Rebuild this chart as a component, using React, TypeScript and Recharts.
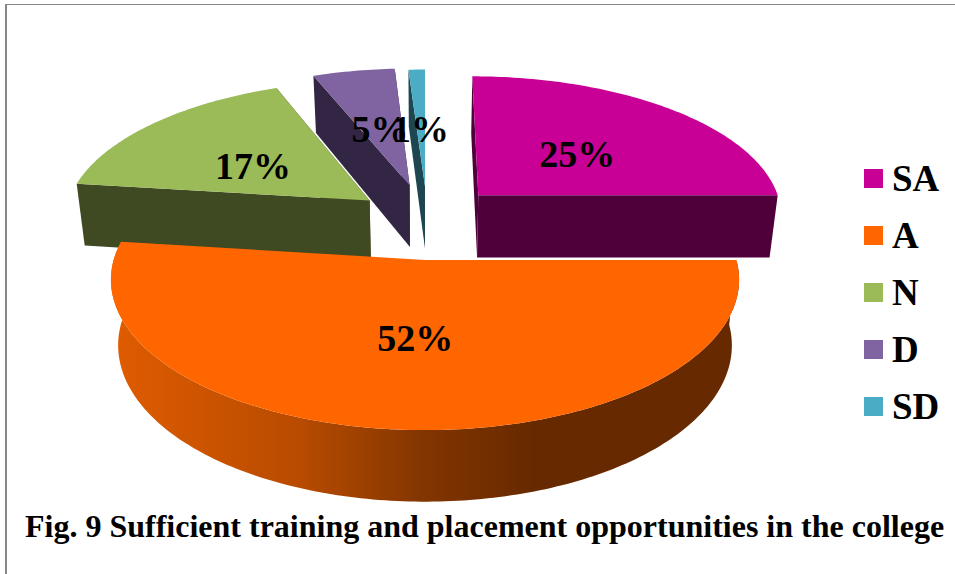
import React from "react";
import { PieChart, Pie, Legend } from "recharts";

const categories = ["SA", "A", "N", "D", "SD"];
const shares = [25, 52, 17, 5, 1];
const topColors = ["#C80096", "#FF6600", "#9BBB59", "#8064A2", "#4BACC6"];
const wallColors = ["#4F003A", "#662900", "#404A22", "#332644", "#1E4650"];
const caption = "Fig. 9 Sufficient training and placement opportunities in the college";

// How far each slice is pulled out of the pie, in pie radii, across and back.
const explodeX = [0.178, 0, -0.184, -0.052, 0];
const explodeY = [0.145, -0.31, 0.106, 0.22, 0.21];
const arcReach = [1, 0.98, 1, 1, 1];
const labelReach = [0.5, 0.46, 0.52, 0.5, 0.5];
const labelDrop = [17, 17, 20, 17, 17];

const FONT = '"Liberation Serif", "Times New Roman", serif';
const CX = 425;
const CY = 215;
const RADIUS = 305;
const TILT = 139 / 305;
const PERSPECTIVE = 0.129;
const DEPTH = 63;
const BOTTOM_SCALE = 0.977;

const table = categories.map((name, i) => ({ name, value: shares[i], fill: topColors[i] }));

type Pt = [number, number];

function project(i: number, deg: number, reach: number, bottom: boolean, cx = CX, cy = CY, r = RADIUS): Pt {
  const a = (deg * Math.PI) / 180;
  const u = reach * Math.cos(a) + explodeX[i];
  const v = reach * Math.sin(a) + explodeY[i];
  const s = 1 / (1 + PERSPECTIVE * v);
  let x = cx + r * u * s;
  let y = cy - r * TILT * v * s;
  if (bottom) {
    x = cx + (x - cx) * BOTTOM_SCALE;
    y += DEPTH * Math.pow(s, 0.7);
  }
  return [x, y];
}

const toPath = (pts: Pt[]) =>
  "M" + pts.map((p) => `${p[0].toFixed(2)},${p[1].toFixed(2)}`).join("L") + "Z";

function arc(i: number, from: number, to: number, bottom: boolean, cx: number, cy: number, r: number): Pt[] {
  const n = Math.max(2, Math.ceil(Math.abs(to - from)));
  const out: Pt[] = [];
  for (let k = 0; k <= n; k++) out.push(project(i, from + ((to - from) * k) / n, arcReach[i], bottom, cx, cy, r));
  return out;
}

function Slice(props: any, front: boolean) {
  const { name, cx, cy, outerRadius: r, startAngle, endAngle } = props;
  const i = categories.indexOf(name);
  const isFront = Math.abs(endAngle - startAngle) > 180;
  if (isFront !== front) return <g />;
  const apex = project(i, 0, 0, false, cx, cy, r);
  const apexB = project(i, 0, 0, true, cx, cy, r);
  const top = arc(i, startAngle, endAngle, false, cx, cy, r);
  const bot = arc(i, startAngle, endAngle, true, cx, cy, r);
  return (
    <g>
      {front ? (
        <>
          <defs>
            <linearGradient id="frontWall" x1="0" y1="0" x2="1" y2="0">
              <stop offset="0" stopColor="#E05C00" />
              <stop offset="0.3" stopColor="#B84B00" />
              <stop offset="0.5" stopColor="#823500" />
              <stop offset="0.68" stopColor={wallColors[i]} />
              <stop offset="1" stopColor={wallColors[i]} />
            </linearGradient>
          </defs>
          <path d={toPath([...top, ...bot.slice().reverse()])} fill="url(#frontWall)" />
        </>
      ) : (
        <>
          <path d={toPath([apex, top[0], bot[0], apexB])} fill={wallColors[i]} />
          <path d={toPath([apex, top[top.length - 1], bot[bot.length - 1], apexB])} fill={wallColors[i]} />
        </>
      )}
      <path d={toPath([apex, ...top])} fill={topColors[i]} />
    </g>
  );
}

function SliceLabel(props: any) {
  const { name, value, cx, cy, outerRadius: r, midAngle } = props;
  const i = categories.indexOf(name);
  const [x, y] = project(i, midAngle, labelReach[i], false, cx, cy, r);
  return (
    <text x={x} y={y} dy={labelDrop[i]} textAnchor="middle" fontFamily={FONT} fontWeight="bold" fontSize={38} fill="#000">
      {`${value}%`}
    </text>
  );
}

function LegendRows({ payload }: any) {
  const rows = categories
    .map((c) => (payload || []).find((e: any) => e.value === c))
    .filter(Boolean);
  return (
    <div style={{ fontFamily: FONT, fontWeight: "bold", fontSize: 37, color: "#000" }}>
      {rows.map((e: any) => (
        <div key={e.value} style={{ display: "flex", alignItems: "center", height: 57 }}>
          <span style={{ width: 19, height: 19, background: e.color, marginRight: 9, flex: "none" }} />
          <span style={{ lineHeight: "57px" }}>{e.value}</span>
        </div>
      ))}
    </div>
  );
}

export default function App() {
  return (
    <div style={{ position: "absolute", left: 0, top: 0, width: 955, height: 574, background: "#fff" }}>
      <div
        style={{
          position: "absolute",
          left: 5,
          top: 4,
          width: 950,
          height: 570,
          borderTop: "1.5px solid #888",
          borderLeft: "2px solid #888",
          boxSizing: "border-box",
        }}
      />
      <PieChart width={955} height={574} margin={{ top: 0, right: 0, bottom: 0, left: 0 }} style={{ position: "absolute", left: 0, top: 0 }}>
        <Pie
          data={table}
          dataKey="value"
          nameKey="name"
          cx={CX}
          cy={CY}
          outerRadius={RADIUS}
          startAngle={90}
          endAngle={-270}
          stroke="none"
          isAnimationActive={false}
          shape={(p: any) => Slice(p, false)}
        />
        <Pie
          data={table}
          dataKey="value"
          nameKey="name"
          cx={CX}
          cy={CY}
          outerRadius={RADIUS}
          startAngle={90}
          endAngle={-270}
          stroke="none"
          legendType="none"
          isAnimationActive={false}
          shape={(p: any) => Slice(p, true)}
          label={SliceLabel}
          labelLine={false}
        />
        <Legend
          layout="vertical"
          verticalAlign="middle"
          align="center"
          wrapperStyle={{ position: "absolute", left: 864, top: 150, width: 90 }}
          content={LegendRows}
        />
        <text x={25} y={537} fontFamily={FONT} fontWeight="bold" fontSize={32} fill="#000">
          {caption}
        </text>
      </PieChart>
    </div>
  );
}
